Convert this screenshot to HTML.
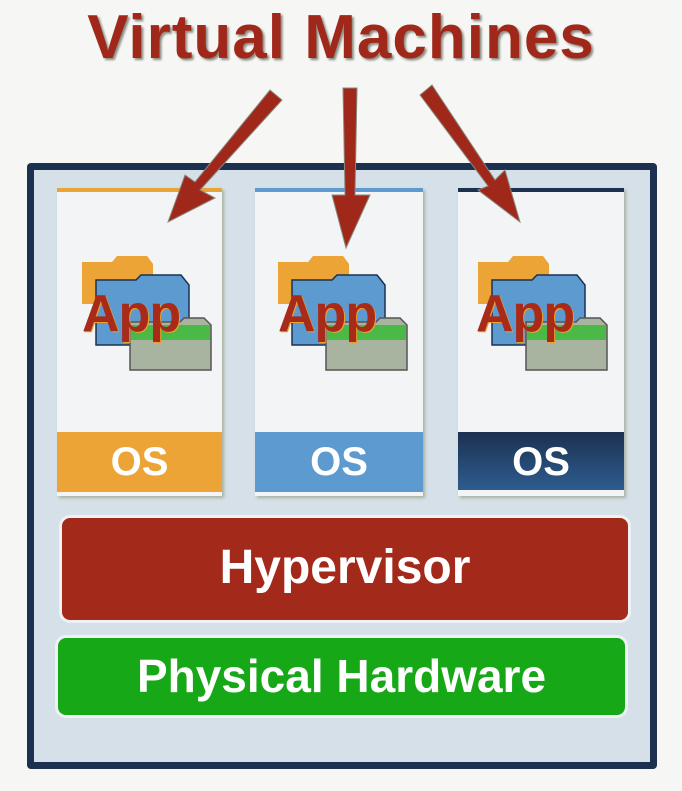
<!DOCTYPE html>
<html><head><style>
body{margin:0;width:682px;height:791px;background:#f6f6f4;position:relative;overflow:hidden;font-family:"Liberation Sans",sans-serif;}
.a{position:absolute;}
.title{left:0;width:682px;top:2px;text-align:center;font-size:62px;font-weight:bold;color:#a0281a;text-shadow:2px 2px 2px #8a8a80;letter-spacing:1px}
.frame{left:27px;top:163px;width:616px;height:592px;border:7px solid #1c3150;border-radius:4px;background:#d5e0e8;}
.vm{background:#f2f4f6;box-shadow:2px 2px 3px #a8b0a0;}
.os{color:#fff;font-weight:bold;font-size:40px;text-align:center;line-height:60px;}
.bar{border-radius:8px;color:#fff;font-weight:bold;text-align:center;box-shadow:0 0 0 3px #eef2f4;}
.app{font-size:52px;font-weight:bold;color:#a82a18;text-shadow:1px 1px 0 #e8a030;letter-spacing:-1px}
</style></head><body>
<div class="a title">Virtual Machines</div>
<div class="a frame"></div>
<div class="a vm" style="left:57px;top:188px;width:165px;height:304px;border-top:4px solid #e8a435"></div>
<div class="a vm" style="left:255px;top:188px;width:168px;height:304px;border-top:4px solid #5d9ad0"></div>
<div class="a vm" style="left:458px;top:188px;width:166px;height:304px;border-top:4px solid #1c3150"></div>
<div class="a os" style="left:57px;top:432px;width:165px;height:60px;background:#eba435">OS</div>
<div class="a os" style="left:255px;top:432px;width:168px;height:60px;background:#5d9ad0">OS</div>
<div class="a os" style="left:458px;top:432px;width:166px;height:58px;background:linear-gradient(#1c3150,#2e5c8f)">OS</div>
<svg class="a" style="left:0;top:0" width="682" height="791">
<g id="ic">
<path d="M82 262h30l5-6h30l6 8v40h-71z" fill="#eba435"/>
<path d="M96 280h40l5-5h40l8 10v60h-93z" fill="#5d9ad0" stroke="#1c3150" stroke-width="1.5"/>
<path d="M130 322h50l4-4h20l7 7v45h-81z" fill="#a8b4a0" stroke="#555" stroke-width="1.5"/>
<path d="M131 325h79v15h-79z" fill="#22bb22" opacity="0.7"/>
</g>
<use href="#ic" x="196"/>
<use href="#ic" x="396"/>
<g fill="#a0281a" stroke="#8a8a80" stroke-width="1">
<polygon points="270,90 282,100 200,190 215,198 168,222 185,175 195,182"/>
<polygon points="343,88 357,88 355,195 370,195 346,248 332,195 345,195"/>
<polygon points="420,95 432,85 495,180 505,170 520,222 478,190 488,186"/>
</g>
</svg>
<div class="a app" style="left:82px;top:284px">App</div>
<div class="a app" style="left:278px;top:284px">App</div>
<div class="a app" style="left:476px;top:284px">App</div>
<div class="a bar" style="left:62px;top:518px;width:566px;height:102px;background:#a32a1a;font-size:48px;line-height:100px">Hypervisor</div>
<div class="a bar" style="left:58px;top:638px;width:567px;height:77px;background:#17a817;font-size:46px;line-height:77px">Physical Hardware</div>
</body></html>
